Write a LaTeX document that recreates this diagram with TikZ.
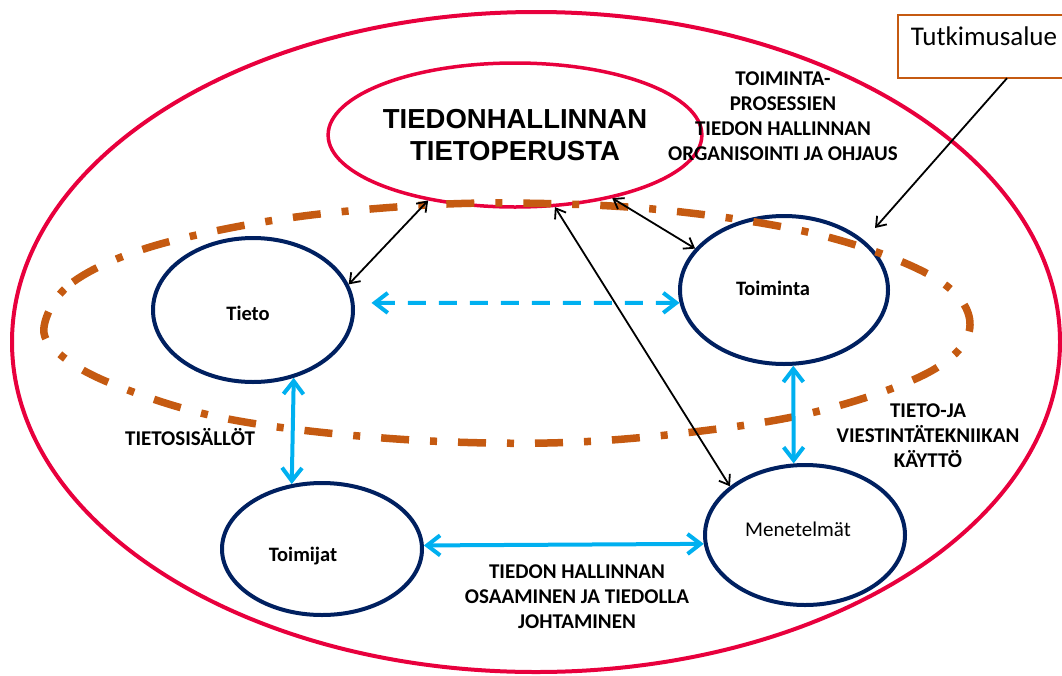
\documentclass[tikz,border=0pt]{standalone}
\usepackage{fontspec}
\setmainfont{Carlito}
\newfontfamily\arialfont{Liberation Sans}
\usetikzlibrary{arrows.meta,shapes.geometric}
\definecolor{cred}{HTML}{E8003D}
\definecolor{cnavy}{HTML}{002060}
\definecolor{cblue}{HTML}{00B0F0}
\definecolor{corange}{HTML}{C55A11}
\begin{document}
\begin{tikzpicture}[x=1pt,y=-1pt,
  oval/.style={ellipse, draw=cnavy, line width=4pt, inner sep=0pt, minimum width=200pt, minimum height=144pt},
  lbl/.style={font=\bfseries\fontsize{21}{25}\selectfont, align=center, inner sep=0pt},
  ovallbl/.style={font=\bfseries\fontsize{20.5}{24}\selectfont, inner sep=0pt},
  blk/.style={draw=black, line width=1.8pt, {Straight Barb[length=9pt,width=13pt]}-{Straight Barb[length=9pt,width=13pt]}},
  blkone/.style={draw=black, line width=1.8pt, -{Straight Barb[length=9pt,width=13pt]}},
  bluearr/.style={draw=cblue, line width=4pt, {Straight Barb[length=13pt,width=20pt]}-{Straight Barb[length=13pt,width=20pt]}},
  bluedash/.style={bluearr, dash pattern=on 18pt off 13pt}
]
\useasboundingbox (0,0) rectangle (1062,675);
% outer ellipse
\node[ellipse, draw=cred, line width=4pt, minimum width=1048pt, minimum height=660pt, inner sep=0pt] (outer) at (536,342) {};
% top ellipse
\node[ellipse, draw=cred, line width=3.5pt, minimum width=310pt, minimum height=144pt, inner sep=0pt,
      font=\arialfont\bfseries\fontsize{27.5}{32}\selectfont, align=center] (top) at (515,135) {TIEDONHALLINNAN\\TIETOPERUSTA};
% four ellipses
\node[oval, minimum width=200pt, minimum height=144pt,
      label={[ovallbl, xshift=-5pt, yshift=-3.5pt]center:Tieto}] (tieto) at (253,310) {};
\node[oval, minimum width=208pt, minimum height=148pt,
      label={[ovallbl, xshift=-11pt, yshift=2pt]center:Toiminta}] (toiminta) at (784,290) {};
\node[oval, minimum width=200pt, minimum height=132pt,
      label={[ovallbl, xshift=-19pt, yshift=-7pt]center:Toimijat}] (toimijat) at (322,549) {};
\node[oval, minimum width=200pt, minimum height=140pt,
      label={[ovallbl, font=\fontsize{21}{25}\selectfont, xshift=-7pt, yshift=6pt]center:Menetelmät}] (menet) at (805,535) {};
% research area (dash-dot)
\draw[corange, line width=7.5pt, dash pattern=on 28pt off 21pt on 7pt off 21pt]
  plot[smooth cycle, tension=0.6] coordinates {(45,322) (73,282) (147,248) (263,222) (383,208) (507,203) (663,210) (820,235) (935,278) (970,325) (933,370) (823,410) (693,432) (547,443) (383,438) (223,418) (110,383) (55,350)};
\coordinate (areapt) at (875,228);
% Tutkimusalue box
\node[minimum width=166pt, minimum height=63pt, inner sep=0pt] (tutk) at (981,46.5) {};
\draw[corange, line width=2.5pt] (tutk.north east) -- (tutk.north west) -- (tutk.south west) -- (tutk.south east);
\node[font=\fontsize{27}{32}\selectfont, anchor=base, inner sep=0pt] (tutklbl) at (984,45) {Tutkimusalue};
\draw[blkone] ([xshift=26pt]tutk.south) -- (areapt);
% black arrows
\draw[blk] (tieto.15) -- (top.217.5);
\draw[blk] (top.327) -- (toiminta.155.6);
\draw[blk] (top.299) -- (menet.147);
% blue arrows
\draw[bluearr] (tieto.-59.4) -- (toimijat.115.5);
\draw[bluearr] (toiminta.-83) -- (menet.99.8);
\draw[bluearr] (toimijat.2.3) -- (menet.185.8);
\draw[bluedash, shorten <=17pt] (tieto.4) -- (toiminta.187.2);
% labels
\node[lbl] (lblproc) at (783,116.5) {TOIMINTA-\\PROSESSIEN\\TIEDON HALLINNAN\\ORGANISOINTI JA OHJAUS};
\node[lbl] (lblict) at (928,436) {TIETO-JA\\VIESTINTÄTEKNIIKAN\\KÄYTTÖ};
\node[lbl, anchor=base] (lblsis) at (190,445) {TIETOSISÄLLÖT};
\node[lbl] (lblosa) at (577,596.5) {TIEDON HALLINNAN\\OSAAMINEN JA TIEDOLLA\\JOHTAMINEN};
\end{tikzpicture}
\end{document}
